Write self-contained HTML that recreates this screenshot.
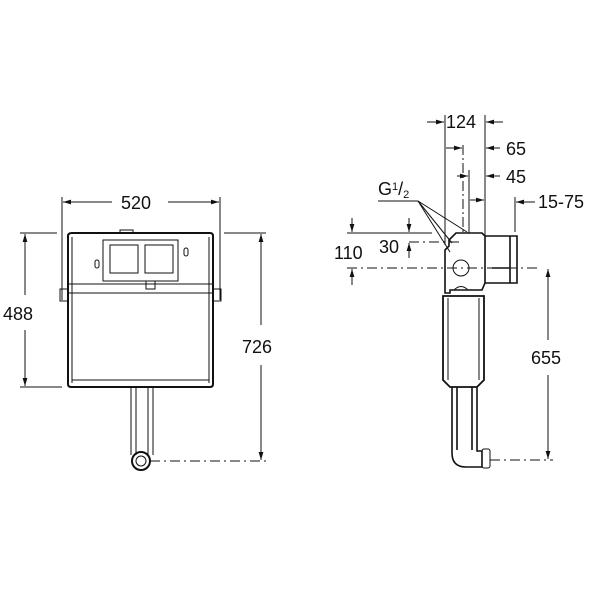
<!DOCTYPE html>
<html><head><style>body{margin:0;background:#fff}svg{display:block}text{font-family:"Liberation Sans",sans-serif;fill:#111}</style></head>
<body>
<svg width="600" height="600" viewBox="0 0 600 600" xmlns="http://www.w3.org/2000/svg">
<defs><marker id="a" viewBox="0 0 10 10" refX="10" refY="5" markerWidth="8" markerHeight="8" orient="auto-start-reverse"><path d="M0,2 L10,5 L0,8 z" fill="#111"/></marker></defs>
<g stroke="#111" fill="none" stroke-width="1">
<line x1="62" y1="197" x2="62" y2="300"/><line x1="220" y1="197" x2="220" y2="300"/>
<line x1="63" y1="202" x2="112" y2="202" marker-start="url(#a)"/><line x1="168" y1="202" x2="219" y2="202" marker-end="url(#a)"/>
<line x1="20" y1="233" x2="57" y2="233"/><line x1="20" y1="387" x2="62" y2="387"/>
<line x1="25" y1="234" x2="25" y2="295" marker-start="url(#a)"/><line x1="25" y1="330" x2="25" y2="386" marker-end="url(#a)"/>
<line x1="224" y1="233" x2="266" y2="233"/>
<line x1="261" y1="234" x2="261" y2="325" marker-start="url(#a)"/><line x1="261" y1="365" x2="261" y2="460" marker-end="url(#a)"/>
<line x1="150" y1="461" x2="266" y2="461" stroke-dasharray="10,4,2,4"/>
<path d="M72,233 H210 Q213,233 213,236 V384 Q213,387 210,387 H71 Q68,387 68,384 V236 Q68,233 72,233 Z" stroke-width="2"/>
<rect x="120" y="230" width="13" height="3"/>
<line x1="72" y1="237" x2="72" y2="383"/><line x1="209" y1="237" x2="209" y2="383"/>
<rect x="103" y="240" width="75" height="41"/>
<rect x="110" y="245" width="28" height="28"/><rect x="145" y="245" width="28" height="28"/>
<line x1="68" y1="284" x2="213" y2="284"/><line x1="68" y1="293" x2="213" y2="293"/>
<line x1="72" y1="380" x2="209" y2="380"/>
<rect x="60" y="289" width="8" height="12"/><rect x="213" y="289" width="8" height="12"/>
<rect x="95" y="260" width="4" height="8" rx="2"/><rect x="184" y="248" width="4" height="8" rx="2"/>
<rect x="146" y="281" width="9" height="8"/>
<path d="M131,387 V455 M153,387 V455 M136,387 V455 M148,387 V455" />
<circle cx="141" cy="461" r="9" stroke-width="2"/><circle cx="141" cy="461" r="5"/>
<line x1="445" y1="115" x2="445" y2="245"/><line x1="485" y1="115" x2="485" y2="235"/>
<line x1="427" y1="122" x2="444" y2="122" marker-end="url(#a)"/><line x1="503" y1="122" x2="486" y2="122" marker-end="url(#a)"/>
<line x1="463" y1="145" x2="463" y2="233" stroke-dasharray="10,3,2,3"/>
<line x1="446" y1="148" x2="462" y2="148" marker-end="url(#a)"/><line x1="500" y1="148" x2="486" y2="148" marker-end="url(#a)"/>
<line x1="469" y1="170" x2="469" y2="233"/>
<line x1="457" y1="176" x2="468" y2="176" marker-end="url(#a)"/><line x1="500" y1="176" x2="486" y2="176" marker-end="url(#a)"/>
<line x1="470" y1="200" x2="484" y2="200" marker-end="url(#a)"/>
<line x1="515" y1="197" x2="515" y2="232"/><line x1="535" y1="202" x2="516" y2="202" marker-end="url(#a)"/>
<line x1="378" y1="201" x2="418" y2="201"/>
<line x1="418" y1="201" x2="467" y2="232"/><line x1="418" y1="201" x2="452" y2="243"/><line x1="418" y1="201" x2="450" y2="252"/>
<line x1="347" y1="233" x2="432" y2="233"/><line x1="347" y1="268" x2="540" y2="268" stroke-dasharray="10,4,2,4"/>
<line x1="409" y1="242" x2="460" y2="242" stroke-dasharray="10,4,2,4"/>
<line x1="352" y1="218" x2="352" y2="232" marker-end="url(#a)"/><line x1="352" y1="285" x2="352" y2="269" marker-end="url(#a)"/>
<line x1="409" y1="218" x2="409" y2="232" marker-end="url(#a)"/><line x1="409" y1="258" x2="409" y2="243" marker-end="url(#a)"/>
<line x1="548" y1="269" x2="548" y2="340" marker-start="url(#a)"/><line x1="548" y1="375" x2="548" y2="459" marker-end="url(#a)"/>
<line x1="490" y1="460" x2="553" y2="460" stroke-dasharray="10,4,2,4"/>
<path d="M456,233 H482 L485,236 V283 L482,290 H450 V293 H445 V250 L449,246 V240 L456,233 Z" stroke-width="1.6"/>
<path d="M485,236 H517 V283 H485 M510,236 V283 M492,268 H510" stroke-width="1.6"/>
<circle cx="461" cy="268" r="8"/><path d="M454,290 Q461,283 468,290"/>
<path d="M443,296 H484 V380 L477,387 H450 L443,380 Z" stroke-width="1.8"/>
<path d="M448,298 V380 M479,298 V380"/>
<path d="M452,387 V453 Q452,467 466,467 H482 V451 H477 V387 M457,387 V450 M472,387 V450" stroke-width="1.6"/>
<rect x="482" y="449" width="8" height="19" rx="2"/>
</g>
<g font-size="18">
<text x="121" y="209">520</text>
<text x="3" y="320">488</text>
<text x="242" y="353">726</text>
<text x="446" y="128">124</text>
<text x="506" y="155">65</text>
<text x="506" y="183">45</text>
<text x="538" y="208">15-75</text>
<text x="378" y="195">G<tspan font-size="11" dy="-5">1</tspan><tspan dy="5">/</tspan><tspan font-size="11" dy="3">2</tspan></text>
<text x="334" y="259">110</text>
<text x="379" y="253">30</text>
<text x="531" y="364">655</text>
</g>
</svg>
</body></html>
